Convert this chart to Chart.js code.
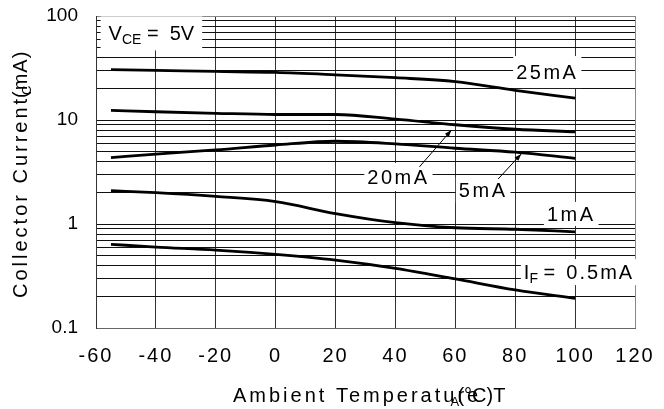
<!DOCTYPE html>
<html>
<head>
<meta charset="utf-8">
<script src="https://cdn.jsdelivr.net/npm/chart.js@4/dist/chart.umd.min.js"></script>
<style>
    html, body { margin: 0; padding: 0; background: #fff; }
    #wrap { width: 664px; height: 409px; }
</style>
</head>
<body>
<div id="wrap"><canvas id="myChart"></canvas></div>
<script>
// ambient temperature (°C) where the curves were read
const temps = [-55, -40, -20, 0, 20, 40, 60, 80, 100];
// collector current (mA) per curve
const curve25 = [30.5, 30.0, 29.3, 28.7, 27.2, 25.5, 23.4, 19.3, 16.2];
const curve20 = [12.4, 12.0, 11.6, 11.3, 11.3, 10.2, 9.0, 8.15, 7.7];
const curve5 = [4.35, 4.7, 5.15, 5.75, 6.25, 5.9, 5.35, 4.9, 4.28];
const curve1 = [2.09, 2.0, 1.84, 1.64, 1.26, 1.03, 0.92, 0.89, 0.84];
const curve05 = [0.638, 0.6, 0.562, 0.511, 0.45, 0.375, 0.296, 0.232, 0.193];

const xTicks = [-60, -40, -20, 0, 20, 40, 60, 80, 100, 120];
const yDecades = [0.1, 1, 10, 100];

const FONT = '"Liberation Sans", Arial, sans-serif';

// log grid: 1..9 in every decade
let yTicks = [];
for (let i = 0; i < yDecades.length - 1; i++) {
    for (let m = 1; m < 10; m++) yTicks.push(+(yDecades[i] * m).toPrecision(3));
}
yTicks.push(yDecades[yDecades.length - 1]);

function pts(arr) {
    return temps.map((t, i) => ({ x: t, y: arr[i] }));
}

// labels on the plot (data coordinates)
const notes = [
    { parts: [{ t: 'V' }, { t: 'CE', sub: true }, { t: ' =  5V' }], x: -41.5, y: 68, box: [8, 17] },
    { parts: [{ t: '25mA', ls: 2.5 }], x: 90.7, y: 28.9, box: [3, 16] },
    { parts: [{ t: '20mA', ls: 2.5 }], x: 41, y: 2.83, box: [3, 14], from: [48, 3.54], to: [58.7, 8.0] },
    { parts: [{ t: '5mA', ls: 2.5 }], x: 69.3, y: 2.12, box: [3, 13], from: [74.3, 2.71], to: [82, 4.71] },
    { parts: [{ t: '1mA', ls: 2.5 }], x: 98.7, y: 1.25, box: [3, 12] },
    { parts: [{ t: 'I' }, { t: 'F', sub: true }, { t: ' =  ' }, { t: '0.5mA', ls: 2 }], x: 101.3, y: 0.345, box: [3, 13] }
];

function drawRich(ctx, parts, cx, cy, box) {
    let total = 0;
    parts.forEach(p => {
        ctx.font = (p.sub ? 14 : 20) + 'px ' + FONT;
        ctx.letterSpacing = (p.ls || 0) + 'px';
        p.w = ctx.measureText(p.t).width;
        total += p.w;
    });
    let x = cx - total / 2;
    if (box) {
        ctx.fillStyle = '#fff';
        ctx.fillRect(x - box[0], cy - box[1], total + 2 * box[0], 2 * box[1]);
    }
    ctx.fillStyle = '#000';
    ctx.textAlign = 'left';
    ctx.textBaseline = 'alphabetic';
    parts.forEach(p => {
        ctx.font = (p.sub ? 14 : 20) + 'px ' + FONT;
        ctx.letterSpacing = (p.ls || 0) + 'px';
        ctx.fillText(p.t, x, cy + 7 + (p.sub ? 4 : 0));
        x += p.w;
    });
}

const notesPlugin = {
    id: 'notes',
    beforeDatasetsDraw(chart) {
        const ctx = chart.ctx, xs = chart.scales.x, ys = chart.scales.y;
        ctx.save();
        notes.forEach(n => {
            drawRich(ctx, n.parts, xs.getPixelForValue(n.x), ys.getPixelForValue(n.y), n.box);
        });
        // arrows
        ctx.strokeStyle = '#000';
        ctx.fillStyle = '#000';
        ctx.lineWidth = 1;
        notes.filter(n => n.from).forEach(n => {
            const x1 = xs.getPixelForValue(n.from[0]), y1 = ys.getPixelForValue(n.from[1]);
            const x2 = xs.getPixelForValue(n.to[0]), y2 = ys.getPixelForValue(n.to[1]);
            const a = Math.atan2(y2 - y1, x2 - x1);
            ctx.beginPath();
            ctx.moveTo(x1, y1);
            ctx.lineTo(x2, y2);
            ctx.stroke();
            ctx.beginPath();
            ctx.moveTo(x2, y2);
            ctx.lineTo(x2 - 7 * Math.cos(a) + 2.5 * Math.sin(a), y2 - 7 * Math.sin(a) - 2.5 * Math.cos(a));
            ctx.lineTo(x2 - 7 * Math.cos(a) - 2.5 * Math.sin(a), y2 - 7 * Math.sin(a) + 2.5 * Math.cos(a));
            ctx.closePath();
            ctx.fill();
        });
        ctx.restore();
    },
    afterDraw(chart) {
        const ctx = chart.ctx;
        ctx.save();
        ctx.fillStyle = '#000';
        ctx.textAlign = 'left';
        ctx.textBaseline = 'alphabetic';
        ctx.font = '20px ' + FONT;
        ctx.letterSpacing = '3px';
        // x title (the overlap is in the original)
        const x0 = 233, by = 402;
        ctx.fillText('Ambient Temperature', x0, by);
        const w1 = ctx.measureText('Ambient Temperatu').width;
        ctx.letterSpacing = '0px';
        ctx.fillText('(°C)', x0 + w1, by);
        ctx.fillText('T', x0 + w1 + ctx.measureText('(°C)').width, by);
        ctx.font = '13px ' + FONT;
        ctx.fillText('A', x0 + w1 - 7, by + 4);
        // y title
        ctx.translate(27, 298);
        ctx.rotate(-Math.PI / 2);
        ctx.font = '20px ' + FONT;
        ctx.letterSpacing = '3px';
        ctx.fillText('Collector Current', 0, 0);
        ctx.letterSpacing = '1px';
        ctx.fillText('(mA)', 200, 0);
        ctx.font = '13px ' + FONT;
        ctx.letterSpacing = '0px';
        ctx.fillText('C', 203, 4);
        ctx.restore();
    }
};

function spaced(scale, px) {
    if (scale._spaced) return;
    const orig = scale.drawLabels;
    scale.drawLabels = function (area) {
        this.ctx.save();
        this.ctx.letterSpacing = px + 'px';
        orig.call(this, area);
        this.ctx.restore();
    };
    scale._spaced = true;
}

const lineStyle = {
    borderColor: '#000',
    borderWidth: 2.8,
    pointRadius: 0,
    fill: false,
    cubicInterpolationMode: 'monotone'
};

const config = {
    type: 'line',
    data: {
        datasets: [
            { label: '25mA', data: pts(curve25), ...lineStyle },
            { label: '20mA', data: pts(curve20), ...lineStyle },
            { label: '5mA', data: pts(curve5), ...lineStyle },
            { label: '1mA', data: pts(curve1), ...lineStyle },
            { label: '0.5mA', data: pts(curve05), ...lineStyle }
        ]
    },
    options: {
        responsive: true,
        maintainAspectRatio: false,
        animation: false,
        layout: { padding: { left: 0, right: 29, top: 16, bottom: 0 } },
        plugins: {
            legend: { display: false },
            tooltip: { enabled: false }
        },
        scales: {
            x: {
                type: 'linear',
                min: -60,
                max: 120,
                afterBuildTicks: s => { s.ticks = xTicks.map(v => ({ value: v })); },
                afterFit: s => {
                    s.height = 81;
                    s.paddingLeft = 0;
                    s.paddingRight = 0;
                    spaced(s, 2);
                },
                ticks: {
                    color: '#000',
                    font: { family: FONT, size: 20 },
                    padding: 16,
                    maxRotation: 0,
                    autoSkip: false
                },
                grid: {
                    color: c => (c.tick && c.tick.value === 120 ? '#888' : '#333'),
                    lineWidth: 1,
                    drawTicks: false
                },
                border: { color: '#666', width: 1 }
            },
            y: {
                type: 'logarithmic',
                min: 0.1,
                max: 100,
                afterBuildTicks: s => { s.ticks = yTicks.map(v => ({ value: v })); },
                afterFit: s => {
                    s.width = 96;
                    s.paddingTop = 0;
                    s.paddingBottom = 0;
                },
                ticks: {
                    color: '#000',
                    font: { family: FONT, size: 19 },
                    padding: 18,
                    autoSkip: false,
                    callback: v => (yDecades.some(d => Math.abs(d - v) < 1e-9) ? String(v) : '')
                },
                grid: {
                    color: c => (c.tick && c.tick.value === 100 ? '#888' : '#111'),
                    lineWidth: 1,
                    drawTicks: false
                },
                border: { color: '#333', width: 1 }
            }
        }
    },
    plugins: [notesPlugin]
};

const myChart = new Chart(document.getElementById('myChart'), config);
</script>
</body>
</html>
